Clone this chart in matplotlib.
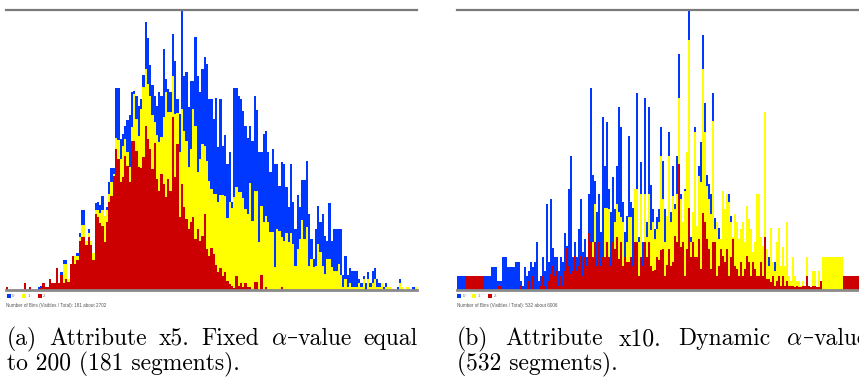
import numpy as np
import matplotlib
matplotlib.use('Agg')
import matplotlib.pyplot as plt
from matplotlib.patches import Rectangle

plt.rcParams['mathtext.fontset'] = 'cm'

# colours of the three classes
c_blue = '#0038ff'
c_yellow = '#ffff00'
c_red = '#cc0000'

# ---- (a) attribute x5, 181 equal segments ----
# stacked levels: red, red+yellow, total (red+yellow+blue)
a_red = [3, 0, 0, 0, 0, 0, 0, 0, 7, 0, 3, 0, 0, 0, 0, 2, 7, 3, 3, 11,
         7, 7, 22, 7, 15, 7, 11, 8, 26, 34, 26, 30, 49, 53, 53, 45, 53, 45, 30, 76,
         73, 67, 64, 48, 68, 88, 94, 114, 141, 131, 108, 113, 134, 124, 108, 149, 149, 139, 123, 122,
         133, 164, 151, 141, 121, 147, 111, 99, 116, 106, 93, 111, 99, 173, 113, 146, 73, 106, 83, 71,
         61, 68, 73, 51, 61, 49, 54, 76, 41, 34, 42, 36, 25, 18, 22, 14, 18, 9, 6, 4,
         2, 14, 4, 7, 3, 7, 3, 3, 0, 8, 8, 0, 15, 0, 3, 0, 0, 0, 0, 0,
         0, 3, 0, 0, 0, 0, 0, 0, 0, 0, 0, 0, 0, 0, 0, 0, 0, 0, 0, 0,
         0, 0, 0, 0, 0, 0, 0, 0, 0, 0, 0, 0, 0, 0, 0, 0, 0, 0, 0, 0,
         0, 0, 0, 0, 0, 0, 0, 0, 0, 0, 0, 0, 0, 0, 0, 0, 0, 0, 0, 0,
         0]
a_red_yellow = [3, 0, 0, 0, 0, 0, 0, 0, 7, 0, 3, 0, 0, 0, 0, 2, 7, 3, 3, 11,
                7, 7, 22, 7, 15, 26, 26, 11, 26, 34, 34, 34, 53, 65, 65, 49, 57, 49, 37, 80,
                80, 77, 80, 74, 80, 96, 108, 116, 152, 150, 131, 144, 151, 138, 123, 163, 196, 171, 154, 181,
                203, 221, 206, 194, 175, 168, 155, 148, 153, 173, 198, 178, 178, 214, 176, 177, 138, 181, 159, 149,
                123, 141, 181, 164, 118, 131, 146, 144, 129, 109, 101, 96, 96, 88, 95, 95, 94, 72, 88, 82,
                93, 103, 98, 98, 92, 81, 76, 107, 69, 99, 99, 48, 84, 68, 74, 68, 58, 58, 23, 61,
                59, 53, 49, 57, 48, 57, 46, 24, 41, 51, 70, 51, 63, 24, 31, 23, 24, 46, 38, 24,
                16, 31, 31, 23, 19, 19, 26, 15, 3, 11, 3, 7, 3, 3, 3, 7, 3, 11, 0, 11,
                3, 7, 11, 3, 3, 7, 1, 3, 3, 3, 0, 0, 0, 7, 3, 0, 3, 3, 0, 0,
                3]
a_total = [3, 0, 0, 0, 0, 0, 0, 0, 7, 0, 3, 0, 0, 0, 3, 4, 7, 3, 3, 11,
           7, 7, 22, 7, 18, 30, 30, 11, 26, 34, 34, 37, 57, 80, 80, 49, 61, 49, 37, 87,
           88, 85, 94, 74, 83, 108, 122, 122, 202, 202, 151, 156, 164, 170, 175, 198, 199, 194, 184, 191,
           215, 268, 252, 225, 205, 194, 184, 198, 194, 241, 211, 201, 198, 256, 229, 191, 176, 279, 214, 218,
           183, 209, 209, 253, 214, 198, 221, 233, 226, 191, 191, 171, 192, 143, 191, 144, 155, 126, 138, 88,
           202, 202, 194, 191, 179, 164, 152, 164, 149, 194, 180, 138, 138, 156, 159, 138, 118, 141, 126, 126,
           104, 128, 126, 103, 83, 126, 88, 61, 95, 83, 110, 110, 129, 76, 51, 31, 61, 84, 68, 76,
           54, 49, 87, 49, 61, 61, 61, 61, 15, 34, 15, 22, 19, 19, 19, 11, 7, 14, 7, 18,
           7, 19, 22, 11, 7, 7, 3, 7, 3, 3, 0, 0, 3, 11, 3, 0, 3, 3, 0, 3,
           3]

# ---- (b) attribute x10, dynamic segments (merged, varying widths) ----
b_width = [9, 17, 8, 6, 5, 5, 8, 5] + [2] * 151 + [21, 20]
b_red = [0, 14, 0, 0, 4, 0, 0, 0,
         4, 0, 0, 0, 9, 0, 14, 0, 0, 0, 4, 14, 4, 0, 9, 16, 24, 14, 19, 4, 14, 4,
         19, 42, 24, 16, 19, 34, 19, 24, 34, 14, 33, 24, 57, 48, 33, 48, 24, 48, 24, 33,
         33, 48, 33, 24, 48, 41, 53, 31, 48, 24, 33, 28, 28, 33, 24, 48, 48, 14, 33, 24,
         48, 33, 48, 24, 19, 20, 33, 30, 40, 41, 14, 25, 41, 24, 28, 54, 48, 126, 43, 48,
         14, 41, 82, 33, 48, 33, 33, 51, 21, 77, 68, 51, 41, 21, 48, 48, 14, 24, 41, 34,
         28, 41, 14, 33, 51, 24, 21, 14, 28, 14, 21, 34, 28, 14, 28, 21, 14, 14, 28, 14,
         53, 11, 11, 8, 14, 4, 9, 14, 4, 14, 4, 9, 4, 4, 4, 3, 4, 3, 3, 4,
         4, 14, 4, 3, 4, 4, 3, 3, 9,
         0, 14]
b_red_yellow = [0, 14, 0, 0, 4, 0, 0, 0,
                4, 0, 0, 0, 9, 0, 14, 0, 0, 0, 4, 14, 4, 0, 9, 16, 24, 14, 19, 4, 14, 4,
                19, 42, 24, 16, 19, 34, 19, 24, 34, 14, 33, 24, 57, 48, 48, 86, 24, 48, 24, 33,
                82, 82, 81, 24, 48, 68, 86, 78, 73, 68, 33, 48, 73, 73, 24, 101, 101, 48, 96, 24,
                96, 53, 96, 60, 68, 51, 61, 68, 134, 91, 48, 74, 134, 68, 94, 81, 96, 192, 91, 68,
                99, 138, 250, 48, 78, 158, 64, 114, 108, 221, 158, 104, 91, 76, 169, 61, 68, 51, 51, 99,
                81, 96, 88, 68, 53, 76, 68, 51, 61, 68, 48, 84, 71, 61, 38, 48, 96, 96, 53, 44,
                178, 41, 24, 62, 28, 19, 48, 62, 24, 43, 24, 68, 14, 9, 33, 14, 9, 9, 4, 9,
                4, 33, 4, 3, 19, 19, 3, 19, 9,
                33, 14]
b_total = [14, 14, 14, 23, 9, 33, 23, 28,
           9, 4, 23, 14, 19, 28, 23, 28, 48, 9, 14, 33, 19, 86, 28, 91, 42, 33, 33, 19, 33, 28,
           57, 44, 101, 134, 33, 48, 33, 61, 91, 38, 51, 33, 96, 202, 115, 109, 78, 96, 58, 173,
           124, 168, 101, 78, 113, 81, 124, 183, 163, 88, 58, 74, 154, 88, 82, 101, 197, 53, 128, 48,
           192, 68, 183, 105, 81, 61, 73, 81, 163, 129, 81, 74, 158, 78, 124, 86, 134, 236, 96, 68,
           101, 138, 279, 53, 78, 163, 64, 124, 148, 255, 187, 115, 106, 96, 197, 72, 68, 62, 51, 99,
           81, 96, 96, 74, 53, 76, 68, 51, 61, 68, 48, 84, 71, 61, 38, 48, 96, 96, 53, 44,
           178, 41, 33, 62, 28, 28, 48, 62, 24, 43, 24, 68, 14, 9, 33, 14, 9, 9, 4, 9,
           4, 33, 4, 3, 19, 19, 3, 19, 9,
           33, 14]

# caption words (justified lines as in the paper)
cap_a1 = ['(a)', 'Attribute', 'x5.', 'Fixed', ['$\\alpha$', '\u2013', 'value'], 'equal']
cap_a2 = 'to 200 (181 segments).'
cap_b1 = ['(b)', 'Attribute', 'x10.', 'Dynamic', ['$\\alpha$', '\u2013', 'value']]
cap_b2 = '(532 segments).'

TOP = 279.5


def draw_hist(ax, left, width, red, red_yellow, total):
    red = np.array(red)
    red_yellow = np.array(red_yellow)
    total = np.array(total)
    kw = dict(align='edge', linewidth=0, antialiased=False)
    ax.bar(left, red, width, color=c_red, **kw)
    ax.bar(left, red_yellow - red, width, bottom=red, color=c_yellow, **kw)
    ax.bar(left, total - red_yellow, width, bottom=red_yellow, color=c_blue, **kw)
    ax.set_xlim(0, left[-1] + width[-1])
    ax.set_ylim(0, TOP)
    ax.axhline(TOP, color='#7a7a7a', lw=1.6, clip_on=False)
    ax.axhline(-0.8, color='#8a8a8a', lw=2.0, clip_on=False)
    ax.axis('off')


fig = plt.figure(figsize=(8.59, 3.79), dpi=100)
W, H = 859.0, 379.0
ybot = (H - 289.5) / H
yh = 279.5 / H

ax_a = fig.add_axes([6 / W, ybot, 411 / W, yh])
a_w = np.ones(len(a_total))
a_left = np.arange(len(a_total), dtype=float)
draw_hist(ax_a, a_left, a_w, a_red, a_red_yellow, a_total)

ax_b = fig.add_axes([457 / W, ybot, sum(b_width) / W, yh])
b_w = np.array(b_width, dtype=float)
b_left = np.concatenate([[0], np.cumsum(b_w)[:-1]])
draw_hist(ax_b, b_left, b_w, b_red, b_red_yellow, b_total)


def small_legend(x0, n_bins, n_total):
    for i, (c, lab) in enumerate([(c_blue, '0'), (c_yellow, '1'), (c_red, '2')]):
        xs = x0 + 15.5 * i
        fig.add_artist(Rectangle((xs / W, 1 - 298 / H), 4 / W, 4 / H,
                                 transform=fig.transFigure, color=c, lw=0))
        fig.text((xs + 5.5) / W, 1 - 296 / H, lab, fontsize=3.2, color='#777777',
                 family='Liberation Sans', va='center')
    fig.text(x0 / W, 1 - 305 / H,
             'Number of Bins (Visibles / Total): %d about %d' % (n_bins, n_total),
             fontsize=3.3, color='#555555', family='Liberation Sans', va='center')


small_legend(6.5, 181, 2702)
small_legend(457, 532, 6006)

# ---- captions ----
FS = 17
renderer = fig.canvas.get_renderer()


def style(s):
    # cmr10 has no usable en dash, take it from DejaVu Serif
    if s == '\u2013':
        return 'DejaVu Serif', FS * 0.92
    return 'cmr10', FS


def put(x, y, s):
    fam, size = style(s)
    t = fig.text(x / W, 1 - y / H, s, fontsize=size, family=fam, va='baseline')
    return t.get_window_extent(renderer).width


def word_width(word):
    parts = word if isinstance(word, list) else [word]
    tot = 0
    for p in parts:
        fam, size = style(p)
        t = fig.text(0, 0, p, fontsize=size, family=fam)
        tot += t.get_window_extent(renderer).width
        t.remove()
    return tot


def justified(x0, x1, y, words):
    widths = [word_width(w) for w in words]
    gap = (x1 - x0 - sum(widths)) / (len(words) - 1)
    x = x0
    for w, wd in zip(words, widths):
        parts = w if isinstance(w, list) else [w]
        xx = x
        for p in parts:
            xx += put(xx, y, p)
        x += wd + gap


justified(7, 418, 345, cap_a1)
put(7, 370, cap_a2)
justified(457, 868, 345, cap_b1)
put(457, 370, cap_b2)

fig.savefig('out.png', dpi=100)
